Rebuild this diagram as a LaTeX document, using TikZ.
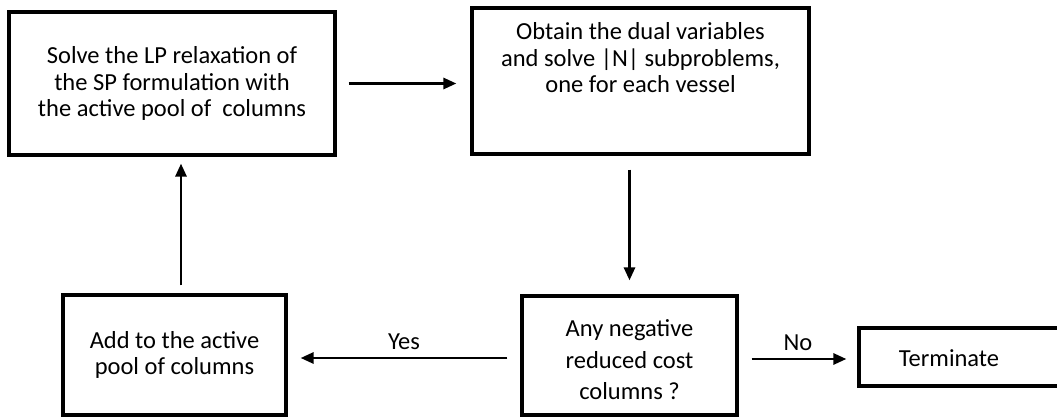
\documentclass[tikz,border=0pt]{standalone}
\usepackage{fontspec}
\setmainfont{Carlito}
\usetikzlibrary{arrows.meta,calc}
\tikzset{
  box/.style={draw=black, line width=3.2pt, rectangle, inner sep=0pt, align=center,
    font=\fontsize{24.5}{26.5}\selectfont},
  txt/.style={inner sep=0pt, align=center, font=\fontsize{24.5}{26.5}\selectfont},
  arr/.style={line width=2.8pt, -{Triangle[length=13pt,width=11pt]}},
  lbl/.style={inner sep=2pt, font=\fontsize{24.5}{26.5}\selectfont}
}
\begin{document}
\begin{tikzpicture}[x=1pt,y=-1pt]
\useasboundingbox (0,0) rectangle (1057,417);
\node[box, minimum width=326pt, minimum height=143pt] (b1) at (172,83.5)
  {Solve the LP relaxation of\\the SP formulation with\\the active pool of\ \ columns};
\node[box, minimum width=337pt, minimum height=146pt] (b2) at (640.5,81) {};
\node[txt] (t2) at (640.5,58) {Obtain the dual variables\\and solve |N| subproblems,\\one for each vessel};
\node[box, minimum width=223pt, minimum height=120pt] (b3) at (174.5,355)
  {Add to the active\\pool of columns};
\node[box, minimum width=215pt, minimum height=119pt] (b4) at (629.5,355.5) {};
\node[txt, font=\fontsize{24.5}{31.5}\selectfont] (t4) at (629.5,360) {Any negative\\reduced cost\\columns ?};
\node[box, minimum width=201pt, minimum height=58pt] (b5) at (959.5,357) {};
\node[txt] (t5) at (949,358) {Terminate};

\draw[arr, shorten <=12pt, shorten >=14pt] (b1.east) -- (b1.east -| b2.west);
\draw[arr, shorten <=14pt, shorten >=14pt] (b2.south -| b4.north) -- (b4.north);
\draw[arr, shorten <=13pt, shorten >=13pt] ($(b4.west)+(0,2.5)$) -- node[lbl, above=5pt] (yes) {Yes} ($(b3.east)+(0,3)$);
\draw[arr, shorten <=8pt, shorten >=7pt] ($(b3.north)+(6.5,0)$) -- ($(b3.north |- b1.south)+(6.5,0)$);
\draw[arr, shorten <=13pt, shorten >=11pt] ($(b4.east)+(0,3.5)$) -- node[lbl, above=5pt] (no) {No} ($(b5.west)+(0,2)$);
\end{tikzpicture}
\end{document}
